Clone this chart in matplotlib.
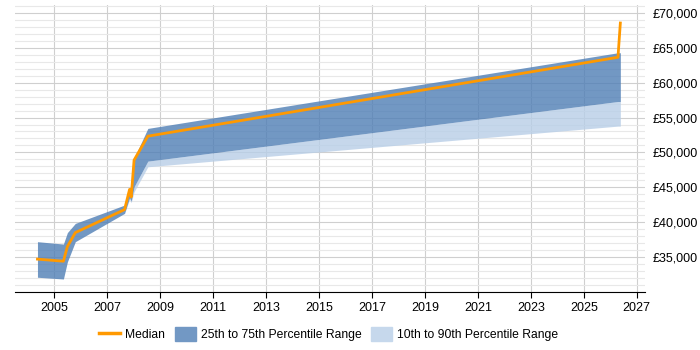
import numpy as np
import matplotlib
matplotlib.use("Agg")
import matplotlib.pyplot as plt
from matplotlib.ticker import FuncFormatter, MultipleLocator
from matplotlib.patches import Patch
from matplotlib.lines import Line2D

plt.rcParams['font.family'] = ['Liberation Sans', 'DejaVu Sans']

# time points (decimal years)
years = [2004.36, 2005.34, 2005.49, 2005.79, 2007.65, 2007.84, 2007.90, 2008.01, 2008.53, 2026.29, 2026.38]
median = [34700, 34400, 36500, 38500, 41800, 44700, 43600, 48900, 52330, 63640, 68550]
p25 = [32100, 31850, 34300, 37200, 41260, 43500, 43000, 45070, 48750, 57300, 57300]
p75 = [37200, 36860, 38500, 39820, 42450, 44900, 44300, 49180, 53440, 64290, 64290]
p10 = [32100, 31850, 34300, 37200, 41260, 43300, 42800, 44350, 47940, 53770, 53770]
p90 = [37200, 36860, 38500, 39820, 42450, 44900, 44300, 49180, 53440, 64290, 64290]

fig = plt.figure(figsize=(7, 3.5), dpi=100)
ax = fig.add_axes([0.021, 0.166, 0.9, 0.82])

light = '#b8cee7'
dark = '#4f7eb5'
ax.fill_between(years, p10, p25, color=light, alpha=0.8, lw=0, zorder=2)
ax.fill_between(years, p75, p90, color=light, alpha=0.8, lw=0, zorder=2)
ax.fill_between(years, p25, p75, color=dark, alpha=0.8, lw=0, zorder=2)
ax.plot(years, median, color='#ff9900', lw=2, zorder=4)

ax.set_xlim(2003.5, 2027.3)
ax.set_ylim(30000, 71150)
ax.set_xticks(np.arange(2005, 2028, 2))
ax.yaxis.set_major_locator(MultipleLocator(5000))
ax.yaxis.set_minor_locator(MultipleLocator(1000))
ax.yaxis.set_major_formatter(FuncFormatter(lambda v, p: '' if v < 31000 else '£{:,.0f}'.format(v)))
ax.yaxis.tick_right()

ax.grid(True, which='major', axis='both', color='#cfcfcf', lw=0.8, zorder=1)
ax.grid(True, which='minor', axis='y', color='#e8e8e8', lw=0.8, zorder=0)
ax.set_axisbelow(True)
for s in ['top', 'left', 'right']:
    ax.spines[s].set_visible(False)
ax.spines['bottom'].set_color('black')
ax.tick_params(axis='y', which='both', length=0, labelsize=9, pad=6)
ax.tick_params(axis='x', length=4, labelsize=9, color='black')

handles = [Line2D([], [], color='#ff9900', lw=2.5),
           Patch(color='#7298c4'), Patch(color='#c6d8ec')]
labels = ['Median', '25th to 75th Percentile Range', '10th to 90th Percentile Range']
fig.legend(handles, labels, loc='center', bbox_to_anchor=(0.47, 0.045), ncol=3,
           frameon=False, fontsize=8.7, handlelength=1.7, handleheight=1.3,
           handletextpad=0.45, columnspacing=0.8)

fig.savefig('out.png', dpi=100)
